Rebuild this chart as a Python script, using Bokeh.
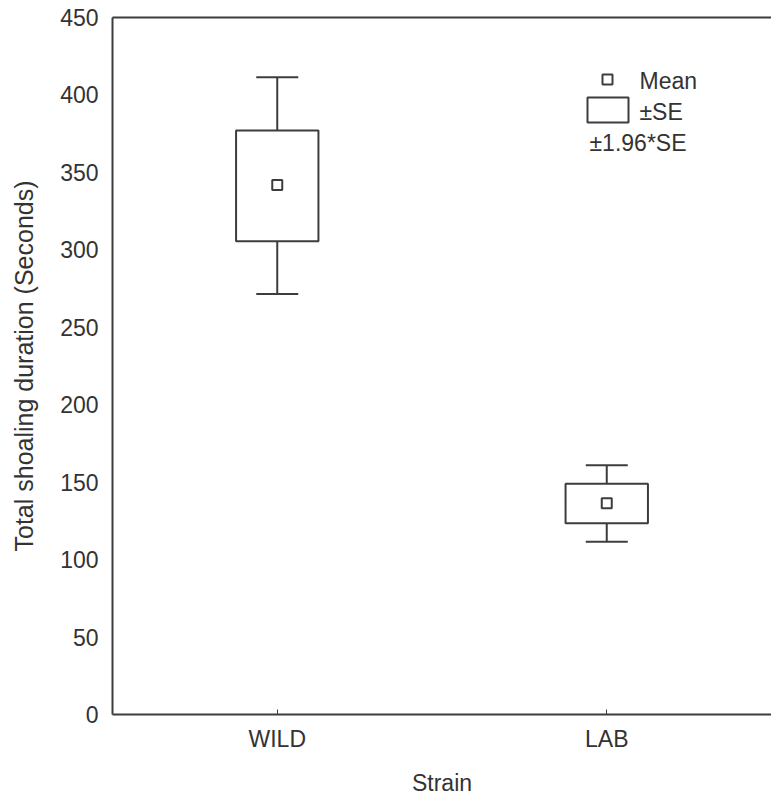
from bokeh.plotting import figure
from bokeh.models import (ColumnDataSource, Range1d, FixedTicker, Whisker, TeeHead,
                          LinearAxis, Label, BoxAnnotation)
from bokeh.embed import file_html
from bokeh.resources import INLINE

# values
strains = ["WILD", "LAB"]
mean = [341.8, 136.4]
se_low = [305.6, 123.5]
se_high = [377.0, 149.0]
ci_low = [271.5, 111.5]
ci_high = [411.4, 161.0]
y_ticks = [0, 50, 100, 150, 200, 250, 300, 350, 400, 450]

FONT = "Liberation Sans"
LINE = "#3d3d3d"
TEXT = "#333333"

xpos = [i + 0.5 for i in range(len(strains))]
source = ColumnDataSource(data=dict(x=xpos, mean=mean, se_low=se_low, se_high=se_high,
                                    ci_low=ci_low, ci_high=ci_high))

p = figure(x_range=Range1d(0, len(strains)), y_range=Range1d(0, 450),
           width=771, height=798, output_backend="svg", toolbar_location=None,
           min_border_left=112, min_border_right=0, min_border_top=17, min_border_bottom=84)
p.outline_line_color = None
p.xgrid.grid_line_color = None
p.ygrid.grid_line_color = None

# whiskers (+-1.96*SE)
wh = Whisker(base="x", lower="ci_low", upper="ci_high", source=source,
             line_color=LINE, line_width=2,
             lower_head=TeeHead(size=42, line_color=LINE, line_width=2),
             upper_head=TeeHead(size=42, line_color=LINE, line_width=2))
p.add_layout(wh)

# boxes (+-SE)
p.vbar(x="x", bottom="se_low", top="se_high", width=0.25, source=source,
       fill_color="white", line_color=LINE, line_width=2)

# mean markers
p.scatter(x="x", y="mean", marker="square", size=10, source=source,
          fill_color="white", line_color=LINE, line_width=2)

# axes
p.yaxis.ticker = FixedTicker(ticks=y_ticks)
p.xaxis.ticker = FixedTicker(ticks=xpos)
p.xaxis.major_label_overrides = {x: s for x, s in zip(xpos, strains)}
for ax in [p.xaxis[0], p.yaxis[0]]:
    ax.axis_line_color = LINE
    ax.axis_line_width = 2
    ax.major_tick_line_color = LINE
    ax.major_tick_line_width = 1
    ax.minor_tick_line_color = None
    ax.major_tick_out = 0
    ax.major_label_text_font = FONT
    ax.major_label_text_font_size = "23px"
    ax.major_label_text_color = TEXT
    ax.axis_label_text_font = FONT
    ax.axis_label_text_font_style = "normal"
    ax.axis_label_text_color = TEXT
p.xaxis.major_tick_in = 5
p.yaxis.major_tick_in = 0
p.xaxis.major_label_standoff = 11
p.yaxis.major_label_standoff = 14
p.xaxis.axis_label = "Strain"
p.xaxis.axis_label_text_font_size = "23px"
p.xaxis.axis_label_standoff = 15
p.yaxis.axis_label = "Total shoaling duration (Seconds)"
p.yaxis.axis_label_text_font_size = "25px"
p.yaxis.axis_label_standoff = 19

# top frame line
top = LinearAxis(ticker=FixedTicker(ticks=[]), axis_line_color=LINE, axis_line_width=2,
                 major_tick_line_color=None, minor_tick_line_color=None)
p.add_layout(top, "above")

# legend (drawn in screen units)
p.add_layout(BoxAnnotation(left=490, right=500, bottom=630, top=640, left_units="screen",
                           right_units="screen", bottom_units="screen", top_units="screen",
                           fill_color="white", fill_alpha=1, line_color=LINE, line_width=2,
                           line_alpha=1))
p.add_layout(BoxAnnotation(left=475, right=516, bottom=592, top=617, left_units="screen",
                           right_units="screen", bottom_units="screen", top_units="screen",
                           fill_color="white", fill_alpha=1, line_color=LINE, line_width=2,
                           line_alpha=1))
for txt, lx, ly in [("Mean", 527, 634), ("\u00b1SE", 527, 603), ("\u00b11.96*SE", 477, 572)]:
    p.add_layout(Label(x=lx, y=ly, x_units="screen", y_units="screen", text=txt,
                       text_font=FONT, text_font_size="23px", text_color=TEXT,
                       text_baseline="middle", text_align="left"))

open("out.html", "w").write(file_html(p, INLINE))
